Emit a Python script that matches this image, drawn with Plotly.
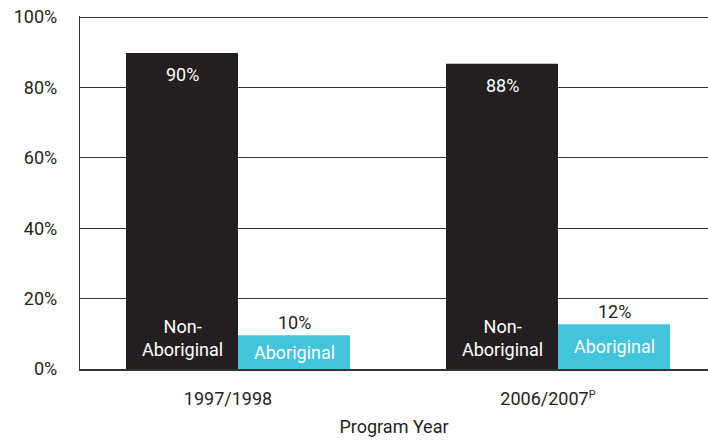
import plotly.graph_objects as go

categories = ["1997/1998", "2006/2007<sup><span style='font-size:11px'>P</span></sup>"]
non_aboriginal = [89.8, 86.7]
aboriginal = [9.6, 12.7]
non_aboriginal_labels = ["90%", "88%"]
aboriginal_labels = ["10%", "12%"]
y_ticks = [0, 20, 40, 60, 80, 100]
y_tick_labels = ["0%", "20%", "40%", "60%", "80%", "100%"]

DARK = "#231f20"
BLUE = "#41c4dc"
FONT = "Roboto, Arial, sans-serif"
FS = 18

fig = go.Figure()
fig.add_trace(go.Bar(x=categories, y=non_aboriginal, name="Non-Aboriginal",
                     marker=dict(color=DARK, line=dict(width=0))))
fig.add_trace(go.Bar(x=categories, y=aboriginal, name="Aboriginal",
                     marker=dict(color=BLUE, line=dict(width=0))))

off = 0.175
for i in range(len(categories)):
    fig.add_annotation(x=i - off, y=non_aboriginal[i], text=non_aboriginal_labels[i],
                       showarrow=False, yanchor="middle", yshift=-22,
                       font=dict(color="white", size=FS, family=FONT))
    fig.add_annotation(x=i - off, y=0, text="Non-<br>Aboriginal",
                       showarrow=False, yanchor="middle", yshift=31,
                       font=dict(color="white", size=FS, family=FONT))
    fig.add_annotation(x=i + off, y=aboriginal[i], text=aboriginal_labels[i],
                       showarrow=False, yanchor="middle", yshift=13,
                       font=dict(color=DARK, size=FS, family=FONT))
    fig.add_annotation(x=i + off, y=aboriginal[i] / 2, text="Aboriginal",
                       showarrow=False, yanchor="middle", yshift=0,
                       font=dict(color="white", size=FS, family=FONT))

fig.update_layout(
    width=708, height=443,
    margin=dict(l=80, r=0, t=16, b=74),
    paper_bgcolor="white", plot_bgcolor="white",
    barmode="group", bargap=0.3, bargroupgap=0,
    showlegend=False,
    font=dict(family=FONT, size=FS, color=DARK),
)
fig.update_xaxes(
    type="category", automargin=False,
    range=[-0.49375, 1.46875],
    showgrid=False, showline=True, linecolor="#333333", linewidth=1.5,
    ticks="", ticklabelstandoff=13, ticklabelshift=-10,
    tickfont=dict(size=FS, color=DARK, family=FONT),
    title=dict(text="Program Year", standoff=12,
               font=dict(size=FS, color=DARK, family=FONT)),
)
fig.update_yaxes(
    automargin=False,
    range=[0, 100.3], tickvals=y_ticks, ticktext=y_tick_labels,
    showgrid=True, gridcolor="#333333", gridwidth=1.3,
    showline=True, linecolor="#333333", linewidth=1.3,
    zeroline=False, ticks="", ticklabelstandoff=18,
    ticklabeloverflow="allow",
    tickfont=dict(size=FS, color=DARK, family=FONT),
)

# remove the default 8px page margin so the 708x443 figure fills the window
fig.write_html("out.html",
               config={"displayModeBar": False},
               post_script="document.body.style.margin='0';document.body.style.overflow='hidden';")
